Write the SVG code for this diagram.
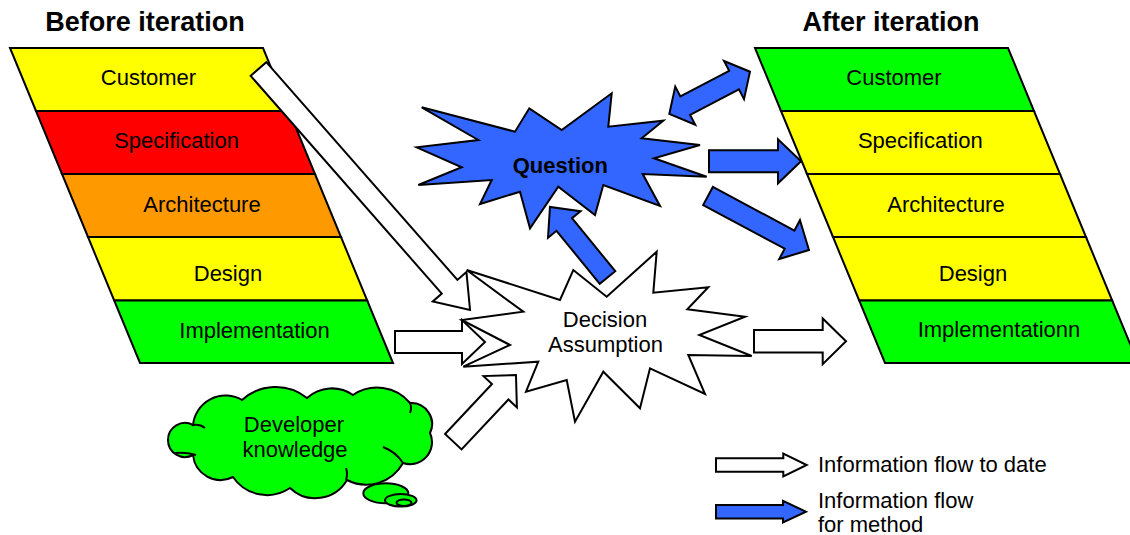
<svg xmlns="http://www.w3.org/2000/svg" width="1130" height="535" viewBox="0 0 1130 535">
<style>
text{font-family:"Liberation Sans",Arial,Helvetica,sans-serif;fill:#000}
.lbl{font-size:22px;text-anchor:middle}
.ttl{font-size:27px;font-weight:bold;text-anchor:middle}
.leg{font-size:22px}
.band{stroke:#000;stroke-width:2;stroke-linejoin:miter}
.y{fill:#FFFF00}.r{fill:#FF0000}.o{fill:#FF9900}.g{fill:#00FF00}
.wa{fill:#fff;stroke:#000;stroke-width:2;stroke-linejoin:miter}
.ba{fill:#3366FF;stroke:#000;stroke-width:2;stroke-linejoin:miter}
.star{stroke:#000;stroke-width:2;stroke-linejoin:miter}
</style>
<rect width="1130" height="535" fill="#fff"/>
<text class="ttl" x="145" y="31">Before iteration</text>
<text class="ttl" x="891" y="31">After iteration</text>

<g id="before">
<polygon class="band y" points="10,48 263,48 289,111 36,111"/>
<polygon class="band r" points="36,111 289,111 315,174 62,174"/>
<polygon class="band o" points="62,174 315,174 341,237 88,237"/>
<polygon class="band y" points="88,237 341,237 367.2,300.5 114.2,300.5"/>
<polygon class="band g" points="114.2,300.5 367.2,300.5 393,363 140,363"/>
<text class="lbl" x="148.5" y="85">Customer</text>
<text class="lbl" x="176.5" y="148.3">Specification</text>
<text class="lbl" x="202" y="211.7">Architecture</text>
<text class="lbl" x="228" y="280.7">Design</text>
<text class="lbl" x="254.5" y="337.5">Implementation</text>
</g>

<g id="after">
<polygon class="band g" points="755,48 1008,48 1034,111 781,111"/>
<polygon class="band y" points="781,111 1034,111 1060,174 807,174"/>
<polygon class="band y" points="807,174 1060,174 1086,237 833,237"/>
<polygon class="band y" points="833,237 1086,237 1112.2,300.5 859.2,300.5"/>
<polygon class="band g" points="859.2,300.5 1112.2,300.5 1138,363 885,363"/>
<text class="lbl" x="894" y="85">Customer</text>
<text class="lbl" x="920.3" y="148.3">Specification</text>
<text class="lbl" x="946" y="211.7">Architecture</text>
<text class="lbl" x="973" y="280.7">Design</text>
<text class="lbl" x="999" y="337">Implementationn</text>
</g>

<g id="developer-knowledge">
<path class="band g" d="M193,425 A32.7,32.7 0 0 1 242,400 A50,50 0 0 1 307,398 A37,37 0 0 1 353,395 A43,43 0 0 1 410,403 A21,21 0 0 1 430,433 A22,22 0 0 1 403,463 A42,42 0 0 1 347,480 A36.6,36.6 0 0 1 290,488 A41,41 0 0 1 233,477 A27.7,27.7 0 0 1 193,455 A17,17 0 1 1 193,425 Z"/>
<path d="M193,425 Q200,424 205,428 M175,453 Q186,452 196,455 M383,447 Q396,452 403,463 M346,480 Q348,474 346,468 M410,403 Q412,408 410,413" fill="none" stroke="#000" stroke-width="2"/>
<ellipse class="band g" cx="385.8" cy="493.3" rx="22.5" ry="10"/>
<ellipse class="band g" cx="400.8" cy="500.3" rx="15.8" ry="6.3"/>
<ellipse class="band g" cx="404" cy="502.7" rx="7.5" ry="3.3"/>
<text class="lbl" x="294" y="431.7">Developer</text>
<text class="lbl" x="295" y="457.3">knowledge</text>
</g>

<g id="question">
<polygon class="star" fill="#3366FF" points="421.7,107.3 515,131.7 529.3,108.3 561.7,130 611.7,93.3 608.3,126.7 663.3,120.7 641.7,138.3 700,145 654,158.3 706.7,176.7 642.7,174 660,206 603.3,185 595,215 558.3,186.7 530,228.3 520,191.7 480,204 491.7,180 418.3,185 461.7,167.3 416.7,147.3 478.3,140"/>
<text x="560.3" y="172.7" style="font-size:22px;font-weight:bold;text-anchor:middle">Question</text>
</g>

<g id="decision">
<polygon class="star" fill="#fff" points="466.7,270 560,300 573.3,270 606.7,296.7 656.7,251.7 653.3,292.7 708.3,287.3 687.3,309.3 745,316.7 699.3,335 751.7,356 688.3,355 705,394 650,368.3 640,408.3 603.3,371.7 575,421.7 566.7,380 526,391.7 538.3,361.7 463.3,366.7 510,345 461.7,320 523.3,311.7"/>
<text class="lbl" x="605" y="326.7">Decision</text>
<text class="lbl" x="605.5" y="351.7">Assumption</text>
</g>

<g id="connectors">
<!-- white: information flow to date -->
<path class="wa" transform="translate(258.5,69) rotate(48.73)" d="M0,-10.4 H289.7 V-22.4 L320.7,0 L289.7,22.4 V10.4 H0 Z"/>
<path class="wa" transform="translate(395,342)" d="M0,-11 H67 V-22 L90,0 L67,22 V11 H0 Z"/>
<path class="wa" transform="translate(453.3,441.7) rotate(-46.77)" d="M0,-11.3 H68.5 V-22.9 L91.5,0 L68.5,22.9 V11.3 H0 Z"/>
<path class="wa" transform="translate(754,341.3)" d="M0,-11.3 H68.7 V-22.8 L92,0 L68.7,22.8 V11.3 H0 Z"/>
<!-- blue: information flow for method -->
<path class="ba" transform="translate(669.3,114) rotate(-27.66)" d="M0,0 L18,-21.5 V-10.5 H73.1 V-21.5 L91.1,0 L73.1,21.5 V10.5 H18 V21.5 Z"/>
<path class="ba" transform="translate(709,161.3)" d="M0,-11 H69 V-22 L92,0 L69,22 V11 H0 Z"/>
<path class="ba" transform="translate(708,196) rotate(28.13)" d="M0,-10.3 H92.5 V-22 L114.5,0 L92.5,22 V10.3 H0 Z"/>
<path class="ba" transform="translate(607.5,277.5) rotate(-129.2)" d="M0,-10 H68.4 V-21 L91,0 L68.4,21 V10 H0 Z"/>
</g>

<g id="legend">
<path class="wa" transform="translate(716,465)" d="M0,-6.7 H67.3 V-11.3 L90.7,0 L67.3,11.3 V6.7 H0 Z"/>
<path class="ba" transform="translate(716,511.7)" d="M0,-6.7 H67 V-10.8 L90,0 L67,10.8 V6.7 H0 Z"/>
<text class="leg" x="818" y="471.7">Information flow to date</text>
<text class="leg" x="818" y="508.3">Information flow</text>
<text class="leg" x="818" y="531.5">for method</text>
</g>
</svg>
